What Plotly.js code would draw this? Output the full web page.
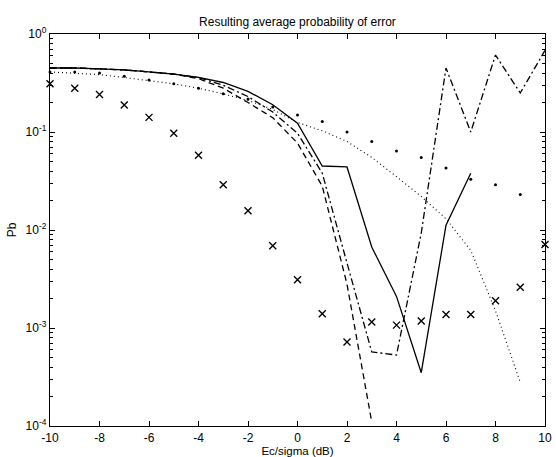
<!DOCTYPE html>
<html>
<head>
<meta charset="utf-8">
<script src="https://cdn.plot.ly/plotly-3.0.1.min.js"></script>
<style>html,body{margin:0;padding:0;background:#fff;}#chart{width:556px;height:457px;}</style>
</head>
<body>
<div id="chart"></div>
<script>
// Ec/sigma (dB)
var xSolid   = [-10,-9,-8,-7,-6,-5,-4,-3,-2,-1,0,1,2,3,4,5,6,7];
var pbSolid  = [0.45,0.45,0.44,0.43,0.41,0.39,0.36,0.32,0.26,0.19,0.123,0.045,0.044,0.0067,0.0021,0.00035,0.0112,0.038];

var xDashed  = [-10,-9,-8,-7,-6,-5,-4,-3,-2,-1,0,1,2,3];
var pbDashed = [0.45,0.45,0.44,0.43,0.41,0.39,0.35,0.28,0.20,0.14,0.077,0.028,0.0028,0.00011];

var xDashDot  = [-10,-9,-8,-7,-6,-5,-4,-3,-2,-1,0,1,2,3,4,5,6,7,8,9,10];
var pbDashDot = [0.45,0.45,0.44,0.43,0.41,0.39,0.36,0.30,0.23,0.16,0.097,0.038,0.0046,0.00057,0.00053,0.0093,0.45,0.10,0.61,0.25,0.68];

var xDotted  = [-10,-9,-8,-7,-6,-5,-4,-3,-2,-1,0,1,2,3,4,5,6,7,8,9];
var pbDotted = [0.41,0.40,0.385,0.36,0.335,0.31,0.28,0.245,0.21,0.17,0.125,0.103,0.08,0.055,0.035,0.022,0.013,0.0062,0.0015,0.00028];

var xDots  = [-10,-9,-8,-7,-6,-5,-4,-3,-2,-1,0,1,2,3,4,5,6,7,8,9];
var pbDots = [0.41,0.41,0.40,0.37,0.34,0.31,0.28,0.246,0.217,0.18,0.149,0.128,0.10,0.08,0.064,0.055,0.043,0.033,0.029,0.023];

var xCross  = [-10,-9,-8,-7,-6,-5,-4,-3,-2,-1,0,1,2,3,4,5,6,7,8,9,10];
var pbCross = [0.31,0.28,0.242,0.189,0.141,0.097,0.058,0.029,0.0157,0.0069,0.0031,0.0014,0.00072,0.00115,0.00107,0.00118,0.00137,0.00137,0.0019,0.0026,0.0071];

var xTicks = [-10,-8,-6,-4,-2,0,2,4,6,8,10];
var yTickVals = [1e-4,1e-3,1e-2,1e-1,1];
var yTickText = ['10<sup>-4</sup>','10<sup>-3</sup>','10<sup>-2</sup>','10<sup>-1</sup>','10<sup>0</sup>'];
var yMinorMantissas = [2,3,4,5,6,7,8,9];
var yMinorDecades = [1e-4,1e-3,1e-2,1e-1];

var yMinorVals = [];
yMinorDecades.forEach(function(d){ yMinorMantissas.forEach(function(m){ yMinorVals.push(m*d); }); });

var black = '#000';
var traces = [
  {x:xSolid, y:pbSolid, mode:'lines', line:{color:black,width:1.3,dash:'solid'}},
  {x:xDashed, y:pbDashed, mode:'lines', line:{color:black,width:1.3,dash:'6px,4px'}},
  {x:xDashDot, y:pbDashDot, mode:'lines', line:{color:black,width:1.3,dash:'7px,3px,2px,3px'}},
  {x:xDotted, y:pbDotted, mode:'lines', line:{color:black,width:1.1,dash:'1px,3px'}},
  {x:xDots, y:pbDots, mode:'markers', cliponaxis:false, marker:{symbol:'circle',size:3,color:black}},
  {x:xCross, y:pbCross, mode:'markers', cliponaxis:false, marker:{symbol:'x-thin-open',size:7,color:black,line:{color:black,width:1.4}}}
];

var fam = 'Liberation Sans, Arial, sans-serif';
var font = {family:fam, size:12, color:black};
var layout = {
  width:556, height:457,
  margin:{l:50, r:11, t:34, b:31, pad:0},
  paper_bgcolor:'#fff', plot_bgcolor:'#fff',
  showlegend:false,
  font:font,
  title:{text:'Resulting average probability of error', font:{family:fam,size:12,color:black}, x:0.535, xanchor:'center', y:0.962, yanchor:'top'},
  xaxis:{
    range:[-10,10], tickvals:xTicks, ticktext:xTicks.map(String),
    ticks:'inside', ticklen:5, tickcolor:black, tickwidth:1,
    showline:true, linecolor:black, linewidth:1.2, mirror:'ticks',
    showgrid:false, zeroline:false,
    tickfont:{family:fam,size:12,color:black},
    title:{text:'Ec/sigma (dB)', font:{family:fam,size:11.5,color:black}, standoff:4}
  },
  yaxis:{
    type:'log', range:[-4,0], tickvals:yTickVals, ticktext:yTickText,
    ticks:'inside', ticklen:5, tickcolor:black, tickwidth:1,
    minor:{tickmode:'array', tickvals:yMinorVals, ticks:'inside', ticklen:3, tickcolor:black, tickwidth:1, showgrid:false},
    showline:true, linecolor:black, linewidth:1.2, mirror:'ticks',
    showgrid:false, zeroline:false,
    tickfont:{family:fam,size:12,color:black},
    title:{text:'Pb', font:{family:fam,size:12,color:black}, standoff:6}
  }
};
Plotly.newPlot('chart', traces, layout, {displayModeBar:false, staticPlot:true});
</script>
</body>
</html>
